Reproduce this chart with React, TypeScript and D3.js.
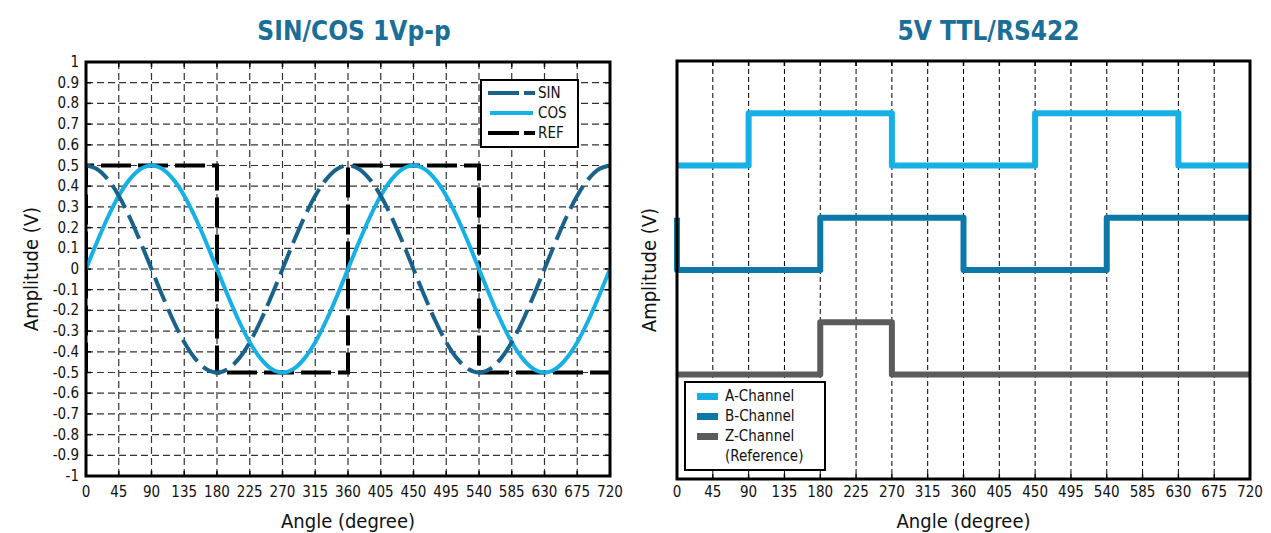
import React from "react";
import * as d3 from "d3";

// ---------- Data ----------
const angles = [0, 15, 30, 45, 60, 75, 90, 105, 120, 135, 150, 165, 180, 195, 210, 225, 240, 255, 270, 285, 300, 315, 330, 345, 360, 375, 390, 405, 420, 435, 450, 465, 480, 495, 510, 525, 540, 555, 570, 585, 600, 615, 630, 645, 660, 675, 690, 705, 720];
const sinSeries = [0.5, 0.483, 0.433, 0.354, 0.25, 0.129, 0, -0.129, -0.25, -0.354, -0.433, -0.483, -0.5, -0.483, -0.433, -0.354, -0.25, -0.129, 0, 0.129, 0.25, 0.354, 0.433, 0.483, 0.5, 0.483, 0.433, 0.354, 0.25, 0.129, 0, -0.129, -0.25, -0.354, -0.433, -0.483, -0.5, -0.483, -0.433, -0.354, -0.25, -0.129, 0, 0.129, 0.25, 0.354, 0.433, 0.483, 0.5];
const cosSeries = [0, 0.129, 0.25, 0.354, 0.433, 0.483, 0.5, 0.483, 0.433, 0.354, 0.25, 0.129, 0, -0.129, -0.25, -0.354, -0.433, -0.483, -0.5, -0.483, -0.433, -0.354, -0.25, -0.129, 0, 0.129, 0.25, 0.354, 0.433, 0.483, 0.5, 0.483, 0.433, 0.354, 0.25, 0.129, 0, -0.129, -0.25, -0.354, -0.433, -0.483, -0.5, -0.483, -0.433, -0.354, -0.25, -0.129, 0];
const refAngles = [0, 0, 180, 180, 360, 360, 540, 540, 720];
const refValues = [-0.5, 0.5, 0.5, -0.5, -0.5, 0.5, 0.5, -0.5, -0.5];

const xTicks = [0, 45, 90, 135, 180, 225, 270, 315, 360, 405, 450, 495, 540, 585, 630, 675, 720];
const yTicks = [-1, -0.9, -0.8, -0.7, -0.6, -0.5, -0.4, -0.3, -0.2, -0.1, 0, 0.1, 0.2, 0.3, 0.4, 0.5, 0.6, 0.7, 0.8, 0.9, 1];

// digital channels: transition angles and logic states (step-after)
const aAngles = [0, 90, 270, 450, 630, 720];
const aStates = [0, 1, 0, 1, 0, 0];
const bAngles = [0, 0, 180, 360, 540, 720];
const bStates = [1, 0, 1, 0, 1, 1];
const zAngles = [0, 180, 270, 720];
const zStates = [0, 1, 0, 0];
const channelBase = { A: 6, B: 4, Z: 2 };

const leftLegend = ["SIN", "COS", "REF"];
const rightLegend = ["A-Channel", "B-Channel", "Z-Channel"];

// ---------- Styles ----------
const FONT = "'DejaVu Sans Condensed', 'Liberation Sans Narrow', Roboto, sans-serif";
const TITLE_COLOR = "#1b6e98";
const C_SIN = "#18628c";
const C_COS = "#17b0e6";
const C_A = "#17b0e6";
const C_B = "#0b78a8";
const C_Z = "#5b5b5b";
const GRID = "#333";

export default function App() {
  // left chart
  const L = { x0: 86, x1: 610, y0: 62, y1: 476 };
  const lx = d3.scaleLinear().domain([0, 720]).range([L.x0, L.x1]);
  const ly = d3.scaleLinear().domain([-1, 1]).range([L.y1, L.y0]);
  const smooth = d3.line<number>().x((_, i) => lx(angles[i])).y((d) => ly(d)).curve(d3.curveCatmullRom);
  const refLine = d3.line<number>().x((_, i) => lx(refAngles[i])).y((d) => ly(d));

  // right chart
  const R = { x0: 677, x1: 1250, y0: 61, y1: 479 };
  const rx = d3.scaleLinear().domain([0, 720]).range([R.x0, R.x1]);
  const ry = d3.scaleLinear().domain([0, 8]).range([R.y1, R.y0]);
  const stepLine = (xs: number[], base: number) =>
    d3.line<number>().x((_, i) => rx(xs[i])).y((d) => ry(base + d)).curve(d3.curveStepAfter);

  const tf = (v: number) => String(v);

  return (
    <svg width={1271} height={533} style={{ position: "absolute", left: 0, top: 0, background: "#fff" }} fontFamily={FONT}>
      {/* ===== LEFT CHART ===== */}
      <text x={(L.x0 + L.x1) / 2 + 6} y={40} textAnchor="middle" fontSize={26} fontWeight="bold" fill={TITLE_COLOR}>SIN/COS 1Vp-p</text>
      <clipPath id="lclip"><rect x={L.x0} y={L.y0} width={L.x1 - L.x0} height={L.y1 - L.y0} /></clipPath>
      {/* grid */}
      {xTicks.slice(1, -1).map((t) => (
        <line key={"lv" + t} x1={lx(t)} x2={lx(t)} y1={L.y0} y2={L.y1} stroke={GRID} strokeWidth={1.2} strokeDasharray="7,4" />
      ))}
      {yTicks.slice(1, -1).map((t) => (
        <line key={"lh" + t} x1={L.x0} x2={L.x1} y1={ly(t)} y2={ly(t)} stroke={GRID} strokeWidth={1.2} strokeDasharray="7,4" />
      ))}
      {/* inner tick marks */}
      {xTicks.slice(1, -1).map((t) => (
        <g key={"ltk" + t}>
          <line x1={lx(t)} x2={lx(t)} y1={L.y0} y2={L.y0 + 5} stroke="#000" strokeWidth={1.5} />
          <line x1={lx(t)} x2={lx(t)} y1={L.y1} y2={L.y1 - 5} stroke="#000" strokeWidth={1.5} />
        </g>
      ))}
      {yTicks.slice(1, -1).map((t) => (
        <g key={"ltky" + t}>
          <line x1={L.x0} x2={L.x0 + 5} y1={ly(t)} y2={ly(t)} stroke="#000" strokeWidth={1.5} />
          <line x1={L.x1} x2={L.x1 - 5} y1={ly(t)} y2={ly(t)} stroke="#000" strokeWidth={1.5} />
        </g>
      ))}
      {/* series */}
      <g clipPath="url(#lclip)">
        <path d={refLine(refValues) || ""} fill="none" stroke="#000" strokeWidth={4} strokeDasharray="30,7" />
        <path d={smooth(cosSeries) || ""} fill="none" stroke={C_COS} strokeWidth={4} />
        <path d={smooth(sinSeries) || ""} fill="none" stroke={C_SIN} strokeWidth={4} strokeDasharray="26,8" />
      </g>
      {/* border */}
      <rect x={L.x0} y={L.y0} width={L.x1 - L.x0} height={L.y1 - L.y0} fill="none" stroke="#000" strokeWidth={3} />
      {/* tick labels */}
      {yTicks.map((t) => (
        <text key={"ly" + t} x={L.x0 - 7} y={ly(t) + 5} textAnchor="end" fontSize={15} fill="#111">{tf(t)}</text>
      ))}
      {xTicks.map((t) => (
        <text key={"lx" + t} x={lx(t)} y={497} textAnchor="middle" fontSize={15} fill="#111">{t}</text>
      ))}
      <text x={(L.x0 + L.x1) / 2} y={528} textAnchor="middle" fontSize={20} fill="#111">Angle (degree)</text>
      <text transform={`translate(38,${(L.y0 + L.y1) / 2}) rotate(-90)`} textAnchor="middle" fontSize={20} fill="#111">Amplitude (V)</text>
      {/* legend */}
      <rect x={481} y={80} width={97} height={67} fill="#fff" stroke="#000" strokeWidth={2} />
      {leftLegend.map((name, i) => {
        const y = 93 + i * 20;
        const col = i === 0 ? C_SIN : i === 1 ? C_COS : "#000";
        return (
          <g key={name}>
            {i === 1 ? (
              <line x1={490} x2={533} y1={y} y2={y} stroke={col} strokeWidth={4} />
            ) : (
              <>
                <line x1={488} x2={519} y1={y} y2={y} stroke={col} strokeWidth={4} />
                <line x1={524} x2={535} y1={y} y2={y} stroke={col} strokeWidth={4} />
              </>
            )}
            <text x={538} y={y + 5} fontSize={15} fill="#111">{name}</text>
          </g>
        );
      })}

      {/* ===== RIGHT CHART ===== */}
      <text x={(R.x0 + R.x1) / 2 + 25} y={40} textAnchor="middle" fontSize={26} fontWeight="bold" fill={TITLE_COLOR}>5V TTL/RS422</text>
      {xTicks.slice(1, -1).map((t) => (
        <line key={"rv" + t} x1={rx(t)} x2={rx(t)} y1={R.y0} y2={R.y1} stroke="#000" strokeWidth={1} strokeDasharray="5,3" />
      ))}
      {xTicks.slice(1, -1).map((t) => (
        <g key={"rtk" + t}>
          <line x1={rx(t)} x2={rx(t)} y1={R.y0} y2={R.y0 + 5} stroke="#000" strokeWidth={1.5} />
          <line x1={rx(t)} x2={rx(t)} y1={R.y1} y2={R.y1 - 5} stroke="#000" strokeWidth={1.5} />
        </g>
      ))}
      <path d={stepLine(aAngles, channelBase.A)(aStates) || ""} fill="none" stroke={C_A} strokeWidth={6} strokeLinejoin="round" />
      <path d={stepLine(bAngles, channelBase.B)(bStates) || ""} fill="none" stroke={C_B} strokeWidth={6} strokeLinejoin="round" />
      <path d={stepLine(zAngles, channelBase.Z)(zStates) || ""} fill="none" stroke={C_Z} strokeWidth={6} strokeLinejoin="round" />
      <rect x={R.x0} y={R.y0} width={R.x1 - R.x0} height={R.y1 - R.y0} fill="none" stroke="#000" strokeWidth={3} />
      {xTicks.map((t) => (
        <text key={"rx" + t} x={rx(t)} y={497} textAnchor="middle" fontSize={15} fill="#111">{t}</text>
      ))}
      <text x={(R.x0 + R.x1) / 2} y={528} textAnchor="middle" fontSize={20} fill="#111">Angle (degree)</text>
      <text transform={`translate(656,${(R.y0 + R.y1) / 2}) rotate(-90)`} textAnchor="middle" fontSize={20} fill="#111">Amplitude (V)</text>
      {/* legend */}
      <rect x={685} y={382} width={140} height={88} fill="#fff" stroke="#000" strokeWidth={2} />
      {rightLegend.map((name, i) => {
        const y = 396 + i * 20;
        const col = i === 0 ? C_A : i === 1 ? C_B : C_Z;
        return (
          <g key={name}>
            <rect x={697} y={y - 3} width={21} height={7} fill={col} />
            <text x={725} y={y + 5} fontSize={15} fill="#111">{name}</text>
          </g>
        );
      })}
      <text x={725} y={461} fontSize={15} fill="#111">(Reference)</text>
    </svg>
  );
}
